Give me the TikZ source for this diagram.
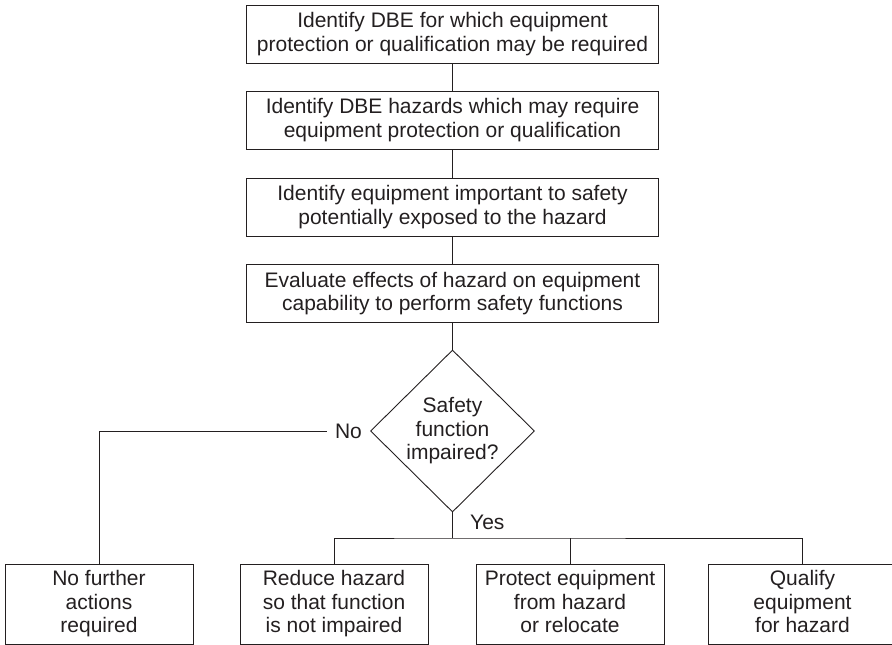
\documentclass[tikz,border=0pt]{standalone}
\usepackage{fontspec}
\setmainfont{Liberation Sans}
\usetikzlibrary{shapes.geometric}
\definecolor{ink}{RGB}{35,31,32}
\begin{document}
\begin{tikzpicture}[x=1pt,y=-1pt,
  every node/.style={font=\fontsize{21}{23.5}\selectfont, text=ink},
  stepbox/.style={draw=ink, line width=0.9pt, minimum width=412, minimum height=58, align=center, inner sep=0},
  endbox/.style={draw=ink, line width=0.9pt, minimum width=188, minimum height=80, align=center, inner sep=0, text depth=4.4pt},
  decision/.style={diamond, draw=ink, line width=0.9pt, minimum width=164, minimum height=162, inner sep=0, align=center},
  link/.style={draw=ink, line width=0.9pt}]
\useasboundingbox (0,0) rectangle (892,645);

% main sequence of steps
\node[stepbox] (s1) at (452.5,34) {Identify DBE for which equipment\\protection or qualification may be required};
\node[stepbox] (s2) at (452.5,120) {Identify DBE hazards which may require\\equipment protection or qualification};
\node[stepbox] (s3) at (452.5,207) {Identify equipment important to safety\\potentially exposed to the hazard};
\node[stepbox] (s4) at (452.5,293.5) {Evaluate effects of hazard on equipment\\capability to perform safety functions};
\node[decision] (dec) at (452.5,431) {Safety\\function\\impaired?};

% outcomes
\node[endbox] (a) at (99,604) {No further\\actions\\required};
\node[endbox] (b) at (334,604) {Reduce hazard\\so that function\\is not impaired};
\node[endbox] (c) at (570,604) {Protect equipment\\from hazard\\or relocate};
\node[endbox] (d) at (802.5,604) {Qualify\\equipment\\for hazard};

% connectors
\draw[link] (s1) -- (s2);
\draw[link] (s2) -- (s3);
\draw[link] (s3) -- (s4);
\draw[link] (s4) -- (dec);

\node[anchor=east, inner xsep=8, inner ysep=0] (no) at (dec.west) {No};
\draw[link] (no.west) -| (a.north);

\coordinate (fork) at (452.5,538);
\draw[link] (dec.south) -- (fork);
\draw[link] (b.north) |- (fork) -| (d.north);
\draw[link] (c.north) -- (c.north |- fork);
\node[anchor=west, inner sep=0] (yes) at (470,522) {Yes};
\end{tikzpicture}
\end{document}
